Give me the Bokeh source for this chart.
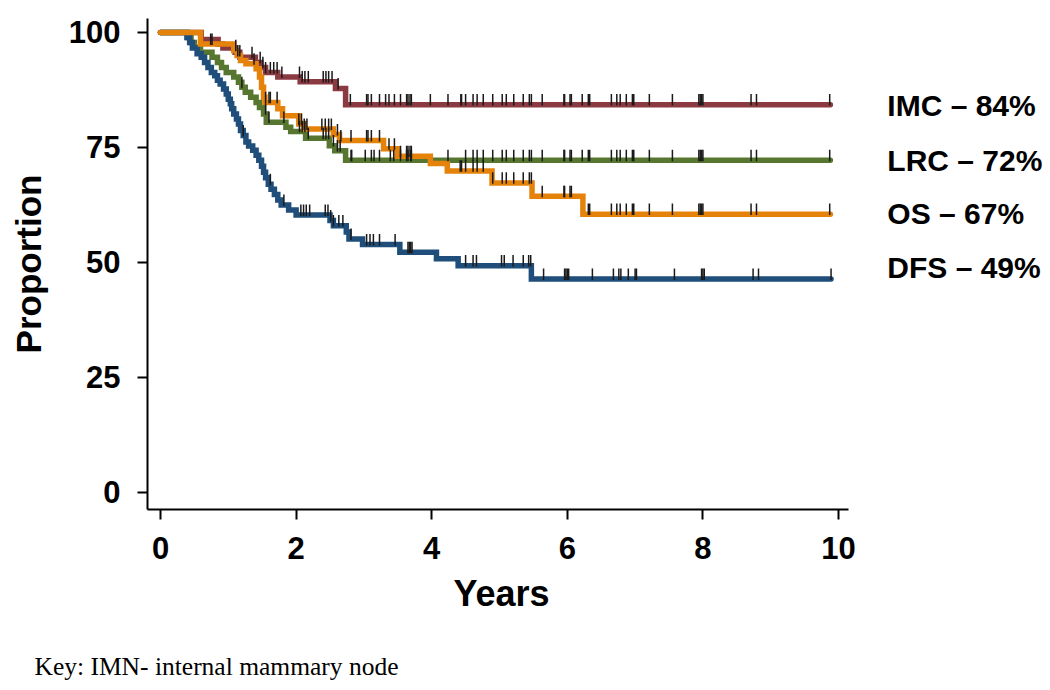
import numpy as np
from bokeh.plotting import figure
from bokeh.models import Range1d, Label, FixedTicker, Title
from bokeh.embed import file_html
from bokeh.resources import INLINE

# ---------------- data ----------------
# Kaplan-Meier step times (years) and proportion after each step
imc_t = [0, 0.60, 0.85, 0.92, 1.10, 1.17, 1.40, 1.48, 1.55, 1.73, 2.06, 2.58, 2.73, 9.88]
imc_s = [100, 98.5, 97.5, 96.6, 95.7, 94.6, 93.5, 92.4, 91.3, 90.3, 89.3, 87.8, 84.3, 84.3]

lrc_t = [0, 0.40, 0.45, 0.50, 0.59, 0.76, 0.84, 0.90, 0.97, 1.08, 1.15, 1.20, 1.25, 1.33,
         1.41, 1.46, 1.52, 1.56, 1.85, 1.92, 2.14, 2.49, 2.57, 2.73, 9.88]
lrc_s = [100, 98.9, 97.8, 96.8, 95.7, 94.6, 93.5, 92.4, 91.3, 90.3, 89.2, 88.1, 87.0, 85.9,
         84.8, 83.7, 82.3, 80.5, 79.4, 78.5, 77.0, 75.4, 74.3, 72.2, 72.2]

os_t = [0, 0.59, 1.08, 1.13, 1.18, 1.26, 1.41, 1.46, 1.49, 1.52, 1.54, 1.73, 1.80, 2.04,
        2.12, 2.55, 2.64, 3.29, 3.49, 3.98, 4.23, 4.89, 5.48, 6.23, 9.88]
os_s = [100, 97.5, 96.1, 95.0, 93.9, 93.2, 92.1, 90.3, 88.1, 85.9, 84.8, 83.4, 81.9, 80.1,
        79.0, 77.8, 76.5, 74.7, 73.1, 71.5, 69.9, 67.3, 64.4, 60.5, 60.5]

dfs_t = [0, 0.39, 0.43, 0.47, 0.54, 0.60, 0.65, 0.70, 0.75, 0.80, 0.84, 0.88, 0.93, 0.97,
         1.00, 1.03, 1.05, 1.08, 1.12, 1.15, 1.18, 1.22, 1.26, 1.30, 1.36, 1.41, 1.45,
         1.49, 1.52, 1.55, 1.59, 1.63, 1.68, 1.73, 1.78, 1.89, 2.00, 2.50, 2.55, 2.74,
         2.78, 2.98, 3.53, 4.07, 4.39, 5.47, 9.89]
dfs_s = [100, 98.9, 97.8, 96.6, 95.4, 94.6, 93.5, 92.4, 91.3, 90.6, 89.6, 88.8, 87.7, 86.6,
         85.5, 84.5, 83.4, 82.3, 81.2, 80.1, 78.7, 77.6, 76.2, 75.3, 74.4, 73.3, 72.2,
         70.9, 69.6, 68.4, 67.0, 65.9, 64.8, 63.6, 62.5, 61.4, 60.3, 59.1, 58.0, 56.6,
         55.1, 53.9, 52.2, 50.8, 49.3, 46.4, 46.4]

# censoring times (years)
late_common = [6.04, 6.06, 6.22, 6.31, 6.33, 6.65, 6.73, 6.78, 6.87, 6.96, 6.98, 7.21,
               7.55, 7.94, 7.96, 7.98, 8.00, 8.71, 8.79, 9.87]
imc_c = [1.35, 1.47, 1.51, 1.55, 1.62, 1.67, 1.72, 1.79, 2.05, 2.09, 2.13, 2.18, 2.40,
         2.44, 2.48, 2.53, 2.62, 2.80, 3.04, 3.06, 3.11, 3.23, 3.32, 3.37, 3.45, 3.54,
         3.63, 3.65, 3.68, 3.70, 3.98, 4.24, 4.43, 4.44, 4.50, 4.61, 4.67, 4.76, 4.90,
         5.04, 5.10, 5.21, 5.35, 5.44, 5.47, 5.63, 5.95, 5.96] + late_common
lrc_c = [1.20, 1.55, 1.60, 1.82, 2.05, 2.09, 2.13, 2.18, 2.40, 2.44, 2.48, 2.55, 2.61,
         2.65, 2.81, 2.82, 3.02, 3.11, 3.15, 3.23, 3.39, 3.44, 3.54, 3.63, 3.65, 3.69,
         3.70, 4.24, 4.50, 4.61, 4.67, 4.76, 4.90, 5.04, 5.10, 5.21, 5.35, 5.44, 5.47,
         5.63, 5.95, 5.96] + late_common
os_c = [0.74, 0.76, 1.11, 1.14, 1.17, 1.38, 1.55, 1.60, 1.62, 1.72, 2.04, 2.08, 2.12,
        2.16, 2.38, 2.43, 2.48, 2.52, 2.61, 2.66, 2.81, 3.04, 3.06, 3.11, 3.23, 3.37,
        3.45, 3.54, 3.63, 3.65, 3.68, 3.70, 4.42, 4.44, 4.50, 4.61, 4.67, 4.76, 4.90,
        5.04, 5.10, 5.21, 5.35, 5.44, 5.47, 5.63, 5.95, 5.96, 6.04, 6.06, 6.31, 6.33,
        6.65, 6.73, 6.78, 6.87, 6.96, 6.98, 7.21, 7.55, 7.94, 7.96, 7.98, 8.00, 8.71,
        8.79, 9.87]
dfs_c = [1.22, 1.62, 1.82, 2.07, 2.11, 2.15, 2.20, 2.43, 2.47, 2.51, 2.55, 2.63, 2.69,
         2.81, 3.04, 3.09, 3.14, 3.23, 3.46, 3.65, 3.67, 3.69, 3.71, 4.50, 4.61, 4.66,
         5.03, 5.07, 5.20, 5.35, 5.43, 5.46, 5.65, 5.96, 5.98, 6.00, 6.02, 6.37, 6.68,
         6.76, 6.79, 6.90, 7.00, 7.02, 7.58, 7.98, 8.00, 8.02, 8.74, 8.82, 9.89]

series_names = ["IMC", "LRC", "OS", "DFS"]
label_texts = ["IMC \u2013 84%", "LRC \u2013 72%", "OS \u2013 67%", "DFS \u2013 49%"]
label_y = [84.1, 72.2, 60.7, 48.9]
x_ticks = [0, 2, 4, 6, 8, 10]
y_ticks = [0, 25, 50, 75, 100]
x_title = "Years"
y_title = "Proportion"
key_text = "Key: IMN- internal mammary node"

# ---------------- figure ----------------
FONT = "Liberation Sans"
W, H = 1048, 690
LEFT, TOP, BOTTOM_AX = 147, 18, 509
p = figure(width=W, height=H, output_backend="svg", toolbar_location=None,
           x_range=Range1d(-0.1917, 13.097), y_range=Range1d(-3.70, 103.04),
           min_border_left=LEFT, min_border_right=0, min_border_top=TOP,
           min_border_bottom=H - BOTTOM_AX)
p.outline_line_color = None
p.xgrid.grid_line_color = None
p.ygrid.grid_line_color = None
p.background_fill_color = "white"
p.border_fill_color = "white"

for ax, ticks in ((p.xaxis, x_ticks), (p.yaxis, y_ticks)):
    ax.ticker = FixedTicker(ticks=ticks)
    ax.minor_tick_line_color = None
    ax.major_tick_in = 0
    ax.major_tick_out = 10
    ax.major_tick_line_width = 2
    ax.axis_line_width = 2
    ax.axis_line_color = "black"
    ax.major_tick_line_color = "black"
    ax.major_label_text_font = FONT
    ax.major_label_text_font_style = "bold"
    ax.major_label_text_font_size = "31px"
    ax.major_label_text_color = "black"
    ax.axis_label_text_font = FONT
    ax.axis_label_text_font_style = "bold"
    ax.axis_label_text_font_size = "35px"
    ax.axis_label_text_color = "black"
    ax.major_label_standoff = 17

p.xaxis.bounds = (-0.1917, 10.15)
p.yaxis.axis_label = y_title
p.yaxis.axis_label_standoff = 18

colors = {"IMC": "#8B3A42", "LRC": "#57762F", "OS": "#E5820A", "DFS": "#1F4E7A"}
curves = {"IMC": (imc_t, imc_s, imc_c), "LRC": (lrc_t, lrc_s, lrc_c),
          "OS": (os_t, os_s, os_c), "DFS": (dfs_t, dfs_s, dfs_c)}

for name in ["IMC", "LRC", "DFS", "OS"]:
    t, s, c = curves[name]
    p.step(x=t, y=s, mode="after", line_width=5.5, line_color=colors[name],
           line_cap="round", line_join="miter")

for name in ["IMC", "LRC", "DFS", "OS"]:
    t, s, c = curves[name]
    t_arr = np.array(t)
    s_arr = np.array(s)
    c_arr = np.array(c)
    idx = np.searchsorted(t_arr, c_arr, side="right") - 1
    sc = s_arr[idx]
    p.segment(x0=c_arr, y0=sc - 0.2, x1=c_arr, y1=sc + 2.3,
              line_color="#1a1a1a", line_width=1.5)

for txt, yv in zip(label_texts, label_y):
    p.add_layout(Label(x=10.72, y=yv, text=txt, text_font=FONT,
                       text_font_style="bold", text_font_size="30px",
                       text_baseline="middle", text_align="left",
                       text_color="black"))

# x-axis title, placed under the 0..10 axis (not the wider frame)
xt = Title(text=x_title, align="left", text_font=FONT, text_font_style="bold",
           text_font_size="36px", text_color="black", offset=306, standoff=18)
p.add_layout(xt, "below")

# note under the chart; the leading blank line pushes it down by one line
key = Title(text="\n" + key_text, align="left", vertical_align="top",
            text_font="Liberation Serif", text_font_style="normal",
            text_font_size="25.5px", text_line_height=1.0, text_color="black",
            offset=-113, standoff=0)
p.add_layout(key, "below")

open("out.html", "w").write(file_html(p, INLINE))
